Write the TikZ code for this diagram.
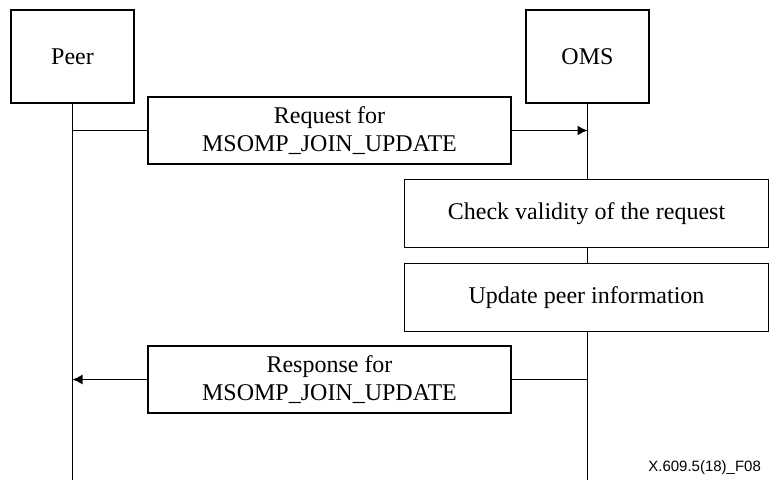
\documentclass[tikz,border=0pt]{standalone}
\usepackage{fontspec}
\setmainfont{Liberation Serif}
\newfontfamily\labelfont{Liberation Sans}
\usetikzlibrary{arrows.meta}

\begin{document}
\begin{tikzpicture}[x=0.5pt,y=-0.5pt]

\tikzset{entity/.style = {shape=rectangle,draw,line width=0.7pt,minimum width=61.5pt,minimum height=46.5pt,font=\fontsize{12}{14}\selectfont}}
\tikzset{message/.style = {shape=rectangle,draw,line width=0.7pt,minimum width=181.5pt,minimum height=33.5pt,align=center,font=\fontsize{12}{14}\selectfont}}
\tikzset{action/.style = {shape=rectangle,draw,line width=0.7pt,minimum width=182pt,minimum height=34pt,font=\fontsize{12}{14}\selectfont}}
\tikzset{edge/.style = {line width=0.7pt}}
\tikzset{arrow/.style = {-{Latex[length=5pt,width=5pt]},line width=0.7pt}}
\useasboundingbox (0,0) rectangle (771,480);
% entities
\node[entity] (peer) at (72.5,56.5) {Peer};
\node[entity] (oms) at (587.5,56.5) {OMS};
% messages and actions
\node[message] (request) at (329.5,130.5) {Request for\\MSOMP\_JOIN\_UPDATE};
\node[action] (check) at (586.5,213.5) {Check validity of the request};
\node[action] (update) at (586.5,297.5) {Update peer information};
\node[message] (response) at (329.5,379.5) {Response for\\MSOMP\_JOIN\_UPDATE};
% lifeline points
\coordinate (peerend) at (72.5,480);
\coordinate (omsend) at (587.5,480);
\coordinate (reqfrom) at (72.5,130.5);
\coordinate (reqto) at (587.5,130.5);
\coordinate (resfrom) at (587.5,379.5);
\coordinate (resto) at (72.5,379.5);
% lifelines
\draw[edge] (peer) to (peerend);
\draw[edge] (oms) to (oms |- check.north);
\draw[edge] (oms |- check.south) to (oms |- update.north);
\draw[edge] (oms |- update.south) to (omsend);
% arrows
\draw[edge] (reqfrom) to (request);
\draw[arrow] (request) to (reqto);
\draw[edge] (resfrom) to (response);
\draw[arrow] (response) to (resto);
% figure label
\node[anchor=east,font=\labelfont\fontsize{7.5}{9}\selectfont] (figlabel) at (768,468) {X.609.5(18)\_F08};
\end{tikzpicture}
\end{document}
